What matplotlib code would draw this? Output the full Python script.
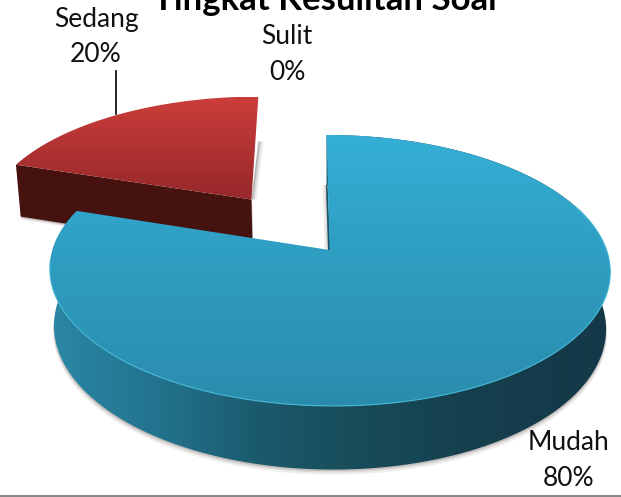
import numpy as np
import matplotlib
matplotlib.use('Agg')
import matplotlib.pyplot as plt
from matplotlib.colors import LinearSegmentedColormap
from matplotlib.patches import Polygon

# dados do grafico
kategori = ['Mudah', 'Sedang', 'Sulit']
nilai = [80, 20, 0]
judul = 'Tingkat Kesulitan Soal'

# posicao dos rotulos em pixels
pos_label = {'Mudah': (569, 460), 'Sedang': (96, 37), 'Sulit': (287, 54)}

# parametros da perspectiva
x0, y0 = 329.5, 250
a, b, k = 277, 132.4, 0.151
cisalha = 0.026
altura = 56
escala_base = 0.985
explode = 0.5


def projeta(X, Y, base=False):
    w = 1 + k * Y
    u = a * X / w
    v = b * Y / w
    if base:
        return x0 + (u - cisalha * v) * escala_base, y0 - v * escala_base + altura / w
    return x0 + u - cisalha * v, y0 - v


def gradiente(ax, pts, cores, z, vertical=True):
    pts = np.array(pts)
    cmap = LinearSegmentedColormap.from_list('g', cores)
    g = np.linspace(0, 1, 256)
    g = g.reshape(-1, 1) if vertical else g.reshape(1, -1)
    ext = (pts[:, 0].min(), pts[:, 0].max(), pts[:, 1].max(), pts[:, 1].min())
    im = ax.imshow(g, cmap=cmap, extent=ext, aspect='auto', origin='upper', interpolation='bilinear', zorder=z)
    im.set_clip_path(Polygon(pts, closed=True, transform=ax.transData))


fig = plt.figure(figsize=(6.21, 4.97), dpi=100)
ax = fig.add_axes([0, 0, 1, 1])

fracao = np.array(nilai) / sum(nilai)
fim = np.cumsum(fracao) * 360
ini = fim - fracao * 360

# Sedang (explodida, atras)
t = np.radians(np.linspace(ini[1], fim[1], 80))
meio = np.radians((ini[1] + fim[1]) / 2)
cx, cy = explode * np.sin(meio), explode * np.cos(meio)
bx, by = cx + np.sin(t), cy + np.cos(t)
px, py = projeta(bx, by)
ax_, ay_ = projeta(cx, cy)
topo_red = list(zip(px, py)) + [(ax_, ay_)]
qx, qy = projeta(bx, by, base=True)
ax2, ay2 = projeta(cx, cy, base=True)
lado_red = [(px[0], py[0]), (ax_, ay_), (ax2, ay2), (qx[0], qy[0])]

# sombra da fatia vermelha
for d, al in [(5, 0.12), (3, 0.18), (1.5, 0.25)]:
    ax.add_patch(Polygon([(x + d * 0.2, y + d * 0.6) for x, y in lado_red], color='#6b5f5c', alpha=al, lw=0, zorder=1))
    ax.add_patch(Polygon([(ax_, ay_), (px[-1], py[-1] + 45), (px[-1] + d, py[-1] + 45), (ax_ + d, ay_)], color='#6b5f5c', alpha=al, lw=0, zorder=1))
ax.add_patch(Polygon(lado_red, color='#45120f', lw=0, zorder=2))
gradiente(ax, topo_red, ['#cb3d3a', '#96282a'], 3)

# Mudah (frente)
t = np.radians(np.linspace(ini[0], fim[0], 300))
bx, by = np.sin(t), np.cos(t)
px, py = projeta(bx, by)
ax_, ay_ = projeta(0, 0)
topo_azul = list(zip(px, py)) + [(ax_, ay_)]
qx, qy = projeta(bx, by, base=True)
lado_azul = list(zip(px, py)) + list(zip(qx[::-1], qy[::-1]))

# sombra do lado azul (so a parte de baixo) e do corte
baixo = (np.degrees(t) > 70) & (np.degrees(t) < 265)
for d, al in [(5, 0.10), (3, 0.15), (1.5, 0.22)]:
    ax.add_patch(Polygon([(x + d * 0.2 * np.sign(x - x0), y + d) for x, y in zip(qx[baixo], qy[baixo])], color='#6b5f5c', alpha=al, lw=0, zorder=4))
    ax.add_patch(Polygon([(px[0] + 1, py[0] + 50), (ax_, ay_), (ax_ - d, ay_), (px[0] + 1 - d, py[0] + 50)], color='#6b5f5c', alpha=al, lw=0, zorder=4))
cores_lado = [(0, '#2a88a6'), (0.2, '#22728c'), (0.37, '#1b5a6d'), (0.52, '#184e5c'), (0.75, '#163f4d'), (1, '#143847')]
gradiente(ax, lado_azul, cores_lado, 5, vertical=False)
ax.add_patch(Polygon([(px[0] - 0.5, py[0] + 50), (ax_ - 1.5, ay_), (ax_ + 1, ay_), (px[0] + 1, py[0] + 50)], color='#1b5264', lw=0, zorder=5.5))
gradiente(ax, topo_azul, ['#35afd6', '#2e9cbf', '#2a8cad'], 6)
ax.plot(px[baixo], py[baixo], color='#45b8d6', lw=0.8, zorder=6.5)

# titulo e rotulos
fonte = 'Lato'
ax.text(325, 9.5, judul, ha='center', va='baseline', fontsize=25, fontweight='bold', family=fonte, color='#000000', zorder=8)
for nome, v in zip(kategori, nilai):
    xl, yl = pos_label[nome]
    ax.text(xl, yl, f'{nome}\n{v}%', ha='center', va='center', fontsize=19, family=fonte, color='#111111', linespacing=1.55, zorder=8)

# linha guia do rotulo Sedang
ax.plot([116, 116], [71, 114], color='#000000', lw=1.2, zorder=2)
# linha inferior
ax.plot([0, 621], [496, 496], color='#888888', lw=1.5, zorder=8)

ax.set_xlim(0, 621)
ax.set_ylim(497, 0)
ax.axis('off')
fig.savefig('out.png', dpi=100)
